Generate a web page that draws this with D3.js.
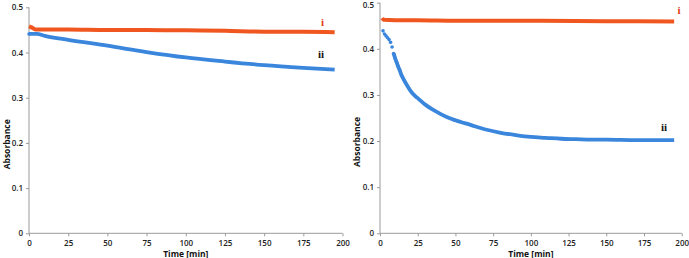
<!DOCTYPE html>
<html>
<head>
<meta charset="utf-8">
<script src="https://cdn.jsdelivr.net/npm/d3@7"></script>
<style>
  body { margin: 0; background: #fff; }
  svg { display: block; }
  .tick text { font-family: "Open Sans", sans-serif; font-size: 8px; font-weight: 600; fill: #222; }
  .axis path, .axis line { stroke: #9a9a9a; }
  .axis-label { font-family: "Open Sans", sans-serif; font-size: 8.5px; font-weight: 700; fill: #111; }
  .curve-label { font-family: "Liberation Serif", serif; font-size: 11px; font-weight: 700; }
</style>
</head>
<body>
<svg id="chart" width="689" height="258"></svg>
<script>
// tick values
const xTicks = [0, 25, 50, 75, 100, 125, 150, 175, 200];
const yTicks = [0, 0.1, 0.2, 0.3, 0.4, 0.5];

// left panel, series i (orange) and ii (blue)
const leftTimeI = [0, 2, 4, 10, 25, 50, 75, 100, 125, 150, 175, 195];
const leftAbsI  = [0.458, 0.455, 0.451, 0.451, 0.451, 0.450, 0.450, 0.449, 0.448, 0.446, 0.446, 0.445];
const leftTimeII = [0, 5, 10, 25, 50, 75, 100, 125, 150, 175, 195];
const leftAbsII  = [0.441, 0.441, 0.437, 0.428, 0.415, 0.401, 0.389, 0.380, 0.372, 0.366, 0.362];

// right panel
const rightTimeI = [1.5, 2.5, 10, 25, 50, 100, 150, 195];
const rightAbsI  = [0.467, 0.463, 0.462, 0.462, 0.461, 0.461, 0.460, 0.459];
const rightTimeII = [2, 3, 4, 5, 6, 7, 8, 9, 10, 11, 12, 13, 14, 15, 17.5, 20, 22.5, 25, 30, 35, 40, 45, 50,
                     60, 70, 80, 90, 100, 110, 120, 130, 140, 150, 170, 195];
const rightAbsII  = [0.439, 0.432, 0.428, 0.424, 0.420, 0.414, 0.404, 0.390, 0.380, 0.371, 0.362, 0.354, 0.345, 0.338,
                     0.323, 0.310, 0.300, 0.293, 0.279, 0.268, 0.259, 0.251, 0.245,
                     0.235, 0.225, 0.218, 0.213, 0.209, 0.207, 0.205, 0.204, 0.203, 0.203, 0.202, 0.202];

const orange = "#f0561f";
const blue = "#3a86dc";

const svg = d3.select("#chart");

function zip(ts, vs) {
    return ts.map((t, i) => ({ t: t, v: vs[i] }));
}

function drawPanel(cfg) {
    const x = d3.scaleLinear().domain([0, 200]).range([cfg.x0, cfg.x1]);
    const y = d3.scaleLinear().domain([0, 0.5]).range([cfg.y0, cfg.y1]);

    const g = svg.append("g");

    const xAxis = g.append("g")
        .attr("class", "axis")
        .attr("transform", `translate(0,${cfg.y0})`)
        .call(d3.axisBottom(x).tickValues(xTicks).tickSize(3).tickPadding(4).tickFormat(d3.format("d")));
    xAxis.select(".domain").attr("d", `M${cfg.x0},0H${cfg.x1}`);

    const yAxis = g.append("g")
        .attr("class", "axis")
        .attr("transform", `translate(${cfg.x0},0)`)
        .call(d3.axisLeft(y).tickValues(yTicks).tickSize(3).tickPadding(3)
            .tickFormat(d => d === 0 ? "0" : d3.format(".1f")(d)));
    yAxis.select(".domain").attr("d", `M0,${cfg.y0}V${cfg.y1}`);
    // keep the top label inside the picture
    yAxis.selectAll(".tick text").filter(d => d === 0.5 && y(d) < 5).attr("dy", "0.55em");

    const line = d3.line().x(d => x(d.t)).y(d => y(d.v)).curve(d3.curveMonotoneX);

    g.append("path")
        .datum(zip(cfg.tI, cfg.vI))
        .attr("fill", "none")
        .attr("stroke", orange)
        .attr("stroke-width", 4)
        .attr("d", line);

    const dataII = zip(cfg.tII, cfg.vII);
    const dense = dataII.filter(d => d.t >= cfg.denseFrom);
    g.append("path")
        .datum(dense)
        .attr("fill", "none")
        .attr("stroke", blue)
        .attr("stroke-width", 3.8)
        .attr("d", line);

    g.selectAll(".dot")
        .data(dataII.filter(d => d.t < cfg.denseFrom + 5))
        .join("circle")
        .attr("cx", d => x(d.t))
        .attr("cy", d => y(d.v))
        .attr("r", 1.8)
        .attr("fill", blue);

    g.append("text")
        .attr("class", "axis-label")
        .attr("text-anchor", "middle")
        .attr("x", (cfg.x0 + cfg.x1) / 2)
        .attr("y", 257)
        .text("Time [min]");

    g.append("text")
        .attr("class", "axis-label")
        .attr("text-anchor", "middle")
        .attr("transform", `translate(${cfg.yLabelX},${(cfg.y0 + cfg.y1) / 2 + 24}) rotate(-90)`)
        .text("Absorbance");

    g.append("text")
        .attr("class", "curve-label")
        .attr("fill", "#e23b12")
        .attr("text-anchor", "middle")
        .attr("x", cfg.labI[0]).attr("y", cfg.labI[1])
        .text("i");

    g.append("text")
        .attr("class", "curve-label")
        .attr("fill", "#111")
        .attr("text-anchor", "middle")
        .attr("x", cfg.labII[0]).attr("y", cfg.labII[1])
        .text("ii");
}

drawPanel({
    x0: 29, x1: 342.5, y0: 233.3, y1: 7.3, yLabelX: 9.5,
    tI: leftTimeI, vI: leftAbsI, tII: leftTimeII, vII: leftAbsII, denseFrom: 0,
    labI: [322.5, 26], labII: [321, 58]
});

drawPanel({
    x0: 380, x1: 681.7, y0: 233.3, y1: 2.7, yLabelX: 360,
    tI: rightTimeI, vI: rightAbsI, tII: rightTimeII, vII: rightAbsII, denseFrom: 9,
    labI: [679, 14], labII: [664, 131]
});
</script>
</body>
</html>
